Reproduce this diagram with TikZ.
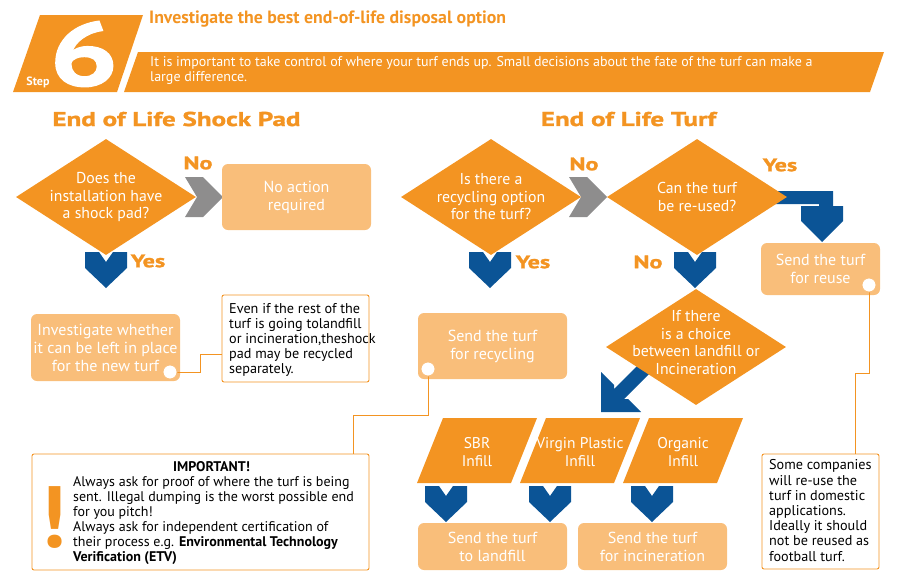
\documentclass[tikz,border=0pt]{standalone}
\usepackage{fontspec}
\setmainfont{PT Sans}
\newfontfamily\headfont{PT Sans}[FakeStretch=1.35,BoldFeatures={FakeBold=1.5}]
\usetikzlibrary{shapes.geometric}

\definecolor{turforange}{HTML}{F39422}
\definecolor{boxorange}{HTML}{F9BE7A}
\definecolor{arrowblue}{HTML}{0B5496}
\definecolor{arrowgrey}{HTML}{8E8D8D}

\tikzset{
    question/.style = {diamond, fill=turforange, text=white, inner sep=-14pt,
        minimum width=180pt, minimum height=116pt, align=center,
        font=\fontsize{15.8}{17.5}\selectfont},
    action/.style = {rectangle, rounded corners=6pt, fill=boxorange, text=white,
        align=center, inner sep=0pt, font=\fontsize{16}{18}\selectfont},
    remark/.style = {rectangle, rounded corners=2pt, draw=turforange, line width=0.9pt,
        fill=white, inner sep=0pt},
    remarktext/.style = {anchor=west, inner sep=0pt, align=left,
        font=\fontsize{14.2}{15.2}\selectfont},
    answer/.style = {text=turforange, font=\headfont\bfseries\fontsize{18}{18}\selectfont},
    heading/.style = {text=turforange, font=\headfont\bfseries\fontsize{20}{20}\selectfont},
    infill/.style = {text=white, align=center, font=\fontsize{15.5}{18}\selectfont},
    knob/.style = {circle, fill=white, draw=boxorange, line width=0.8pt,
        minimum size=14pt, inner sep=0pt},
    link/.style = {turforange, line width=0.8pt},
    pics/downarrow/.style = {code={\fill[arrowblue] (-21,0) -- (-7,0) -- (0,10) -- (7,0)
        -- (21,0) -- (21,16) -- (0,36) -- (-21,16) -- cycle;}},
    pics/rightarrow/.style = {code={\fill[arrowgrey] (0,-20) -- (18,-20) -- (38,0)
        -- (18,20) -- (0,20) -- (12,0) -- cycle;}},
}

\begin{document}
\begin{tikzpicture}[x=1pt, y=-1pt]

    \useasboundingbox (0,0) rectangle (903,584);

    % header
    \fill[turforange] (40,15) -- (143,15) -- (117,92) -- (13,92) -- cycle;
    \fill[turforange] (138,52) -- (884,52) -- (870,92) -- (124,92) -- cycle;
    \node[text=white, font=\headfont\bfseries\fontsize{90}{90}\selectfont] (stepnum) at (84,54) {6};
    \node[text=white, font=\bfseries\fontsize{12}{12}\selectfont] (steptag) at (38,82) {Step};
    \node[anchor=west, inner sep=0pt, text=turforange, font=\bfseries\fontsize{17.8}{18}\selectfont]
        (title) at (149,19) {Investigate the best end-of-life disposal option};
    \node[anchor=west, inner sep=0pt, text=white, align=left, font=\fontsize{14}{15}\selectfont]
        (intro) at (150,70.5) {It is important to take control of where your turf ends up. Small decisions about the fate of the turf can make a\\large difference.};

    \node[heading] (padhead) at (176.5,119) {End of Life Shock Pad};
    \node[heading] (turfhead) at (628.5,119) {End of Life Turf};

    % block arrows
    \pic at (185,197) {rightarrow};
    \pic at (569,197) {rightarrow};
    \pic at (106,252) {downarrow};
    \pic at (490,252) {downarrow};
    \pic at (695,252) {downarrow};
    \pic at (446,486) {downarrow};
    \pic at (550,486) {downarrow};
    \pic at (652,486) {downarrow};
    \fill[arrowblue] (770,191) -- (833,191) -- (833,206) -- (843,206) -- (843,221) -- (822,242)
        -- (801,221) -- (801,206) -- (819,206) -- (819,204) -- (770,204) -- cycle;
    \fill[arrowblue] (601,412) -- (641,412) -- (628,399) -- (624,399) -- (656,367) -- (646,357)
        -- (614,389) -- (614,385) -- (601,372) -- cycle;

    % questions
    \node[question] (padq) at (106,197) {Does the\\installation have\\a shock pad?};
    \node[question] (recq) at (491,197) {Is there a\\recycling option\\for the turf?};
    \node[question] (reuseq) at (697,197) {Can the turf\\be re-used?};
    \node[question] (choiceq) at (696,347) {};
    \node[text=white, align=center, font=\fontsize{15.8}{17.5}\selectfont] (choicetext) at (696,342.5)
        {If there\\is a choice\\between landfill or\\Incineration};

    \node[answer] (padno) at (198,163) {No};
    \node[answer] (padyes) at (148,261) {Yes};
    \node[answer] (recno) at (584,164) {No};
    \node[answer] (recyes) at (533,262) {Yes};
    \node[answer] (reuseyes) at (780,165) {Yes};
    \node[answer] (reuseno) at (648,262) {No};

    % outcomes
    \node[action, minimum width=149pt, minimum height=66pt] (noaction) at (296.5,197) {No action\\required};
    \node[action, minimum width=149pt, minimum height=67pt] (leave) at (105.5,347.5) {Investigate whether\\it can be left in place\\for the new turf};
    \node[action, minimum width=149pt, minimum height=66pt] (recycle) at (492.5,346) {Send the turf\\for recycling};
    \node[action, minimum width=119pt, minimum height=52pt] (reuse) at (820.5,269) {Send the turf\\for reuse};
    \node[action, minimum width=149pt, minimum height=47pt] (landfill) at (492.5,546.5) {Send the turf\\to landfill};
    \node[action, minimum width=149pt, minimum height=47pt] (burn) at (652.5,546.5) {Send the turf\\for incineration};

    % infill types
    \fill[turforange] (443,418) -- (537,418) -- (511,483) -- (417,483) -- cycle;
    \fill[turforange] (546,418) -- (640,418) -- (614,483) -- (520,483) -- cycle;
    \fill[turforange] (649,418) -- (743,418) -- (717,483) -- (623,483) -- cycle;
    \node[infill] (sbr) at (477,452) {SBR\\Infill};
    \node[infill] (virgin) at (580,452) {Virgin Plastic\\Infill};
    \node[infill] (organic) at (683,452) {Organic\\Infill};

    % remarks
    \node[remark, minimum width=147pt, minimum height=87pt] (padnote) at (295.5,338.5) {};
    \node[remarktext] (padnotetext) at (229,340)
        {Even if the rest of the\\turf is going tolandfill\\or incineration,theshock\\pad may be recycled\\separately.};
    \node[remark, minimum width=117pt, minimum height=115pt] (reusenote) at (820.5,511.5) {};
    \node[remarktext] (reusenotetext) at (769,510.5)
        {Some companies\\will re-use the\\turf in domestic\\applications.\\Ideally it should\\not be reused as\\football turf.};
    \node[remark, minimum width=337pt, minimum height=116pt] (important) at (200.5,512) {};
    \node[font=\bfseries\fontsize{14}{15}\selectfont] (imptitle) at (211.5,467) {IMPORTANT!};
    \node[remarktext, font=\fontsize{14}{15.1}\selectfont] (imptext) at (73,520.5)
        {Always ask for proof of where the turf is being\\sent. Illegal dumping is the worst possible end\\for you pitch!\\Always ask for independent certification of\\their process e.g. \textbf{Environmental Technology}\\\textbf{Verification (ETV)}};
    \node[text=turforange, font=\bfseries\fontsize{87}{87}\selectfont] (bang) at (53.5,517.5) {!};

    % links to remarks
    \coordinate (padin) at (222,354);
    \coordinate (recbend) at (353,415);
    \coordinate (reusebend) at (855,373);
    \draw[link] (170,372) -- ++(30,0) |- (padin);
    \draw[link] (428,369) |- (recbend) -- (recbend |- important.north);
    \draw[link] (869,285) |- (reusebend) -- (reusebend |- reusenote.north);
    \node[knob] (padknob) at (170,372) {};
    \node[knob] (recknob) at (428,369) {};
    \node[knob] (reuseknob) at (869,285) {};

\end{tikzpicture}
\end{document}
